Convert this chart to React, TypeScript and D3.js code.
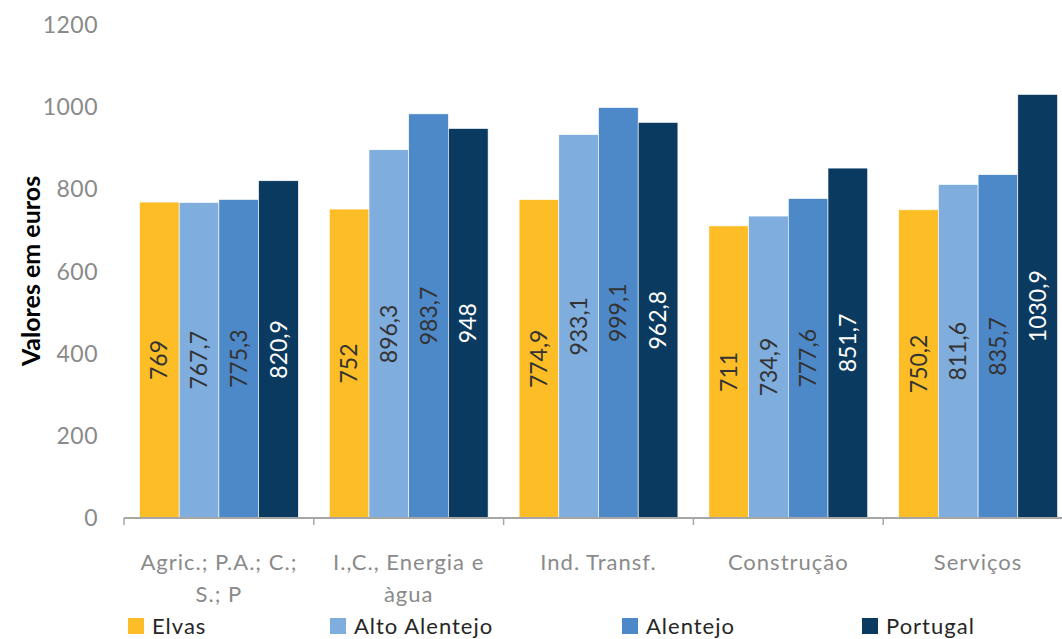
import React from "react";
import * as d3 from "d3";

const categories = [
  ["Agric.; P.A.; C.;", "S.; P"],
  ["I.,C., Energia e", "àgua"],
  ["Ind. Transf."],
  ["Construção"],
  ["Serviços"],
];
const seriesNames = ["Elvas", "Alto Alentejo", "Alentejo", "Portugal"];
const seriesColors = ["#FDBD26", "#7FADDD", "#4D89C8", "#0B3A61"];
const labelColors = ["#333333", "#333333", "#333333", "#ffffff"];
const elvas = [769, 752, 774.9, 711, 750.2];
const altoAlentejo = [767.7, 896.3, 933.1, 734.9, 811.6];
const alentejo = [775.3, 983.7, 999.1, 777.6, 835.7];
const portugal = [820.9, 948, 962.8, 851.7, 1030.9];
const yTicks = [0, 200, 400, 600, 800, 1000, 1200];

const series = [elvas, altoAlentejo, alentejo, portugal];
const font = "Lato, 'Open Sans', sans-serif";

export default function App() {
  const W = 1062, H = 639;
  const x0 = d3.scaleBand<number>().domain(d3.range(categories.length)).range([124, 1073]).padding(0);
  const x1 = d3.scaleBand<number>().domain(d3.range(series.length)).range([15.5, x0.bandwidth() - 15.5]).padding(0);
  const y = d3.scaleLinear().domain([0, 1200]).range([518, 25]);
  const fmt = (v: number) => String(v).replace(".", ",");
  const legendX = [128, 330, 622, 862];

  return (
    <svg width={W} height={H} style={{ position: "absolute", left: 0, top: 0, background: "#fff" }} fontFamily={font}>
      {yTicks.map((t) => (
        <text key={t} x={98} y={y(t)} dy="0.35em" textAnchor="end" fontSize={23} fill="#8a8a8a" letterSpacing={0.5}>{t}</text>
      ))}
      <text transform={`translate(31,271) rotate(-90)`} textAnchor="middle" dy="0.35em" fontSize={25} fontWeight="bold" fill="#000">Valores em euros</text>
      {categories.map((c, i) => (
        <g key={i} transform={`translate(${x0(i)},0)`}>
          {series.map((s, j) => (
            <g key={j}>
              <rect x={x1(j)} y={y(s[i])} width={x1.bandwidth()} height={y(0) - y(s[i])} fill={seriesColors[j]} stroke="#ffffff" strokeWidth={0.6} />
              <text transform={`translate(${x1(j)! + x1.bandwidth() / 2},${(y(s[i]) + y(0)) / 2}) rotate(-90)`} textAnchor="middle" dy="0.35em" fontSize={23} fill={labelColors[j]}>{fmt(s[i])}</text>
            </g>
          ))}
        </g>
      ))}
      <line x1={124} x2={1073} y1={y(0)} y2={y(0)} stroke="#a6a6a6" strokeWidth={2} />
      {d3.range(categories.length + 1).map((i) => {
        const xx = i < categories.length ? x0(i)! : x0(categories.length - 1)! + x0.bandwidth();
        return <line key={i} x1={xx} x2={xx} y1={y(0)} y2={y(0) + 7} stroke="#a6a6a6" strokeWidth={1.5} />;
      })}
      {categories.map((c, i) => (
        <text key={i} x={x0(i)! + x0.bandwidth() / 2} y={562} textAnchor="middle" fontSize={22} fill="#8a8a8a" letterSpacing={1}>
          {c.map((line, k) => (
            <tspan key={k} x={x0(i)! + x0.bandwidth() / 2} dy={k === 0 ? "0.35em" : 32}>{line}</tspan>
          ))}
        </text>
      ))}
      {seriesNames.map((n, j) => (
        <g key={n}>
          <rect x={legendX[j]} y={618} width={16} height={16} fill={seriesColors[j]} />
          <text x={legendX[j] + 24} y={626} dy="0.35em" fontSize={22} fill="#262626" letterSpacing={1}>{n}</text>
        </g>
      ))}
    </svg>
  );
}
